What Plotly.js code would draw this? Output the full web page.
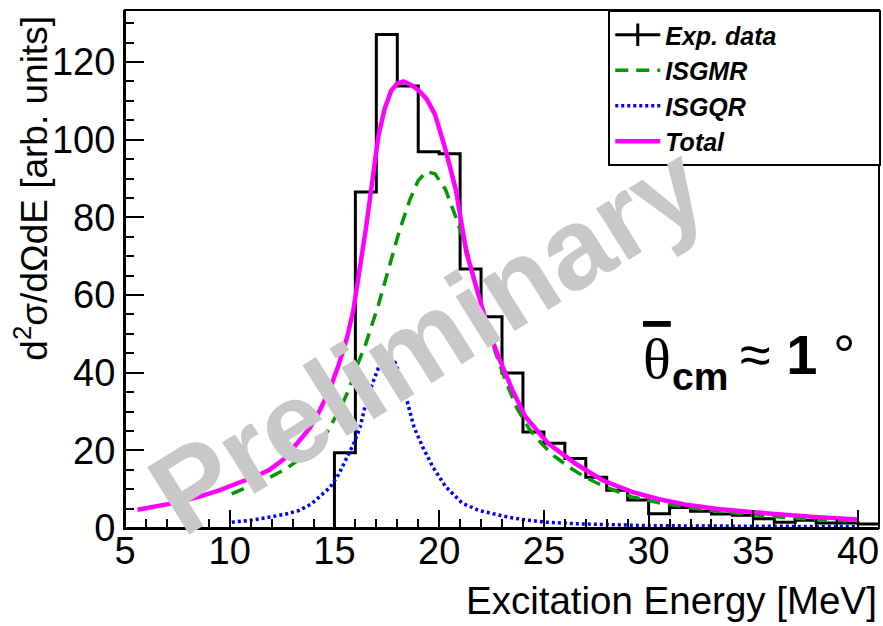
<!DOCTYPE html>
<html><head><meta charset="utf-8">
<script src="https://cdn.plot.ly/plotly-3.0.1.min.js"></script>
<style>html,body{margin:0;padding:0;background:#fff}</style>
</head><body><div id="chart" style="width:883px;height:626px"></div>
<script>
// Histogram (Exp. data): lower bin edges [MeV] and contents
const binLowEdges = [15,16,17,18,19,20,21,22,23,24,25,26,27,28,29,30,31,32,33,34,35,36,37,38,39,40];
const binCounts   = [19.4,86.5,127.1,113.8,96.9,96.4,66.7,54.4,39.9,24.7,21.8,17.9,13.1,9.7,7.2,3.7,5.3,4.3,3.6,3.3,2.4,1.5,2.0,1.3,1.3,1.0];
const binWidth = 1;

// Total fit (magenta)
const totalE = [5.6,6.5,7.5,8.5,9.5,10.3,11.2,11.9,12.6,13.2,13.8,14.3,14.8,15.2,15.6,15.9,16.2,16.5,16.8,17.1,17.4,17.7,18.0,18.3,18.7,19.0,19.4,19.8,20.3,20.8,21.3,21.8,22.3,22.8,23.5,24.1,25.2,26.5,27.8,29.2,30.5,31.8,33.3,34.9,36.5,38.1,40.0];
const totalY = [4.7,5.6,6.6,8.0,9.7,11.4,13.2,15.0,17.8,21.7,25.6,30.3,36,42,49,56,66,77,89,101,108,112.5,114.5,115,114,112.8,110.5,106.5,97.5,87,71,61,52,44.5,35.5,28.8,21.8,16.6,12.3,9.3,7.4,6.0,4.9,4.1,3.4,2.8,2.2];

// ISGMR (green dashed)
const gmrE = [10.1,11.0,11.9,12.7,13.4,14.0,14.5,14.9,15.3,15.7,16.1,16.5,16.8,17.1,17.6,18.1,18.6,19.0,19.4,19.8,20.3,20.8,21.3,21.7,22.2,22.7,23.2,23.7,24.3,24.9,25.5,26.2,26.9,27.6,28.4,29.2,30.5,32.0,33.5,35.0,36.5,38.0,40.0];
const gmrY = [8.8,10.8,13.0,15.3,17.8,20.2,23.3,27,31,35.8,42,47.5,52.5,57.5,67,76.5,84.5,89.5,91.8,91.2,87.2,80,72,63.5,54,45,37.5,31,25.5,21.7,18.5,15.7,13.3,11.4,9.6,8.0,6.5,5.2,4.2,3.4,2.7,2.2,1.8];

// ISGQR (blue dotted)
const gqrE = [10.1,11.0,11.9,12.7,13.3,13.9,14.4,14.8,15.2,15.6,15.9,16.2,16.45,16.8,17.1,17.5,17.9,18.2,18.5,18.8,19.2,19.7,20.3,21.1,21.9,22.5,23.3,24.1,25.1,26.5,28.0,30.0,33.0,36.0,40.0];
const gqrY = [1.5,2.0,2.8,3.6,4.5,6.2,8.6,10.5,13.8,18,21.5,25.5,31,37,41.2,43.8,42.6,38,32,26,21,15.7,10.7,6.4,4.5,3.7,2.8,2.1,1.5,1.1,0.8,0.6,0.5,0.4,0.35];

const xTickVals = [5,10,15,20,25,30,35,40];
const yTickVals = [0,20,40,60,80,100,120];
const legendNames = ['Exp. data','ISGMR','ISGQR','Total'];

const FONT = 'Liberation Sans, Arial, Helvetica, sans-serif';
const SERIF = 'Liberation Serif, Times New Roman, serif';

// step outline of histogram
const lastIdx = binLowEdges.length - 1;
const histX = [binLowEdges[0]].concat(binLowEdges, [binLowEdges[lastIdx] + binWidth]);
const histY = [0].concat(binCounts, [binCounts[lastIdx]]);

const pad = '\u00a0'.repeat(14);

const traces = [
  {x: histX, y: histY, mode: 'lines', line: {shape: 'hv', color: '#000', width: 3}, showlegend: false, hoverinfo: 'skip'},
  {x: gmrE, y: gmrY, mode: 'lines', name: legendNames[1], legendrank: 2, line: {color: '#009a00', width: 3.5, dash: '13px,8px'}},
  {x: gqrE, y: gqrY, mode: 'lines', name: legendNames[2], legendrank: 3, line: {color: '#0000ff', width: 3.5, dash: '3px,3px'}},
  {x: totalE, y: totalY, mode: 'lines', name: legendNames[3], legendrank: 4, line: {color: '#ff00ff', width: 4.5}},
  {x: [null], y: [null], mode: 'lines+markers', name: legendNames[0] + pad, legendrank: 1,
   line: {color: '#000', width: 3}, marker: {symbol: 'line-ns', size: 22, color: '#000', line: {width: 3, color: '#000'}}}
];

const axisCommon = {
  ticks: 'inside', tickwidth: 2, tickcolor: '#000', showline: true, linewidth: 2, linecolor: '#000',
  mirror: false, showgrid: false, zeroline: false,
  tickfont: {family: FONT, size: 38, color: '#000'}
};

const layout = {
  width: 883, height: 626,
  margin: {l: 125, r: 2, t: 10, b: 98},
  paper_bgcolor: '#fff', plot_bgcolor: '#fff',
  showlegend: true,
  xaxis: Object.assign({}, axisCommon, {range: [5, 41], tickvals: xTickVals, ticklen: 18, ticklabelstandoff: -12,
    minor: {tick0: 5, dtick: 1, ticks: 'inside', ticklen: 9, tickwidth: 2, tickcolor: '#000', showgrid: false}}),
  yaxis: Object.assign({}, axisCommon, {range: [0, 133.4], tickvals: yTickVals, ticklen: 19,
    minor: {tick0: 0, dtick: 5, ticks: 'inside', ticklen: 9, tickwidth: 2, tickcolor: '#000', showgrid: false}}),
  shapes: [
    {type: 'rect', xref: 'paper', yref: 'paper', x0: 0, x1: 1, y0: 0, y1: 1, line: {color: '#000', width: 2}, layer: 'above'}
  ],
  legend: {x: 1.003, xanchor: 'right', y: 1, yanchor: 'top', bgcolor: '#fff', bordercolor: '#000', borderwidth: 2,
    itemwidth: 45, tracegroupgap: 0,
    font: {family: FONT, size: 25, weight: 'bold', style: 'italic', color: '#000'}},
  annotations: [
    {xref: 'paper', yref: 'paper', x: 0.40, y: 0.365, xanchor: 'center', yanchor: 'middle', showarrow: false,
     text: '<b>Preliminary</b>', textangle: -32, font: {family: FONT, size: 115, color: '#c8c8c8'}},
    {xref: 'paper', yref: 'paper', x: 0.685, y: 0.328, xanchor: 'left', yanchor: 'middle', showarrow: false,
     text: '<span style="text-decoration:overline">\u03b8</span>', font: {family: SERIF, size: 58, color: '#000'}},
    {xref: 'paper', yref: 'paper', x: 0.723, y: 0.293, xanchor: 'left', yanchor: 'middle', showarrow: false,
     text: '<b>cm</b>', font: {family: FONT, size: 39, color: '#000'}},
    {xref: 'paper', yref: 'paper', x: 0.8135, y: 0.334, xanchor: 'left', yanchor: 'middle', showarrow: false,
     text: '\u2248 <b>1</b> \u00b0', font: {family: FONT, size: 56, color: '#000'}},
    {xref: 'paper', yref: 'paper', x: 1, y: -0.139, xanchor: 'right', yanchor: 'middle', showarrow: false,
     text: 'Excitation Energy [MeV]', font: {family: FONT, size: 38.5, color: '#000'}},
    {xref: 'paper', yref: 'paper', x: -0.124, y: 0.656, xanchor: 'center', yanchor: 'middle', showarrow: false, textangle: -90,
     text: 'd<sup>2</sup>\u03c3/d\u03a9dE [arb. units]', font: {family: FONT, size: 37, color: '#000'}}
  ]
};

Plotly.newPlot('chart', traces, layout, {displayModeBar: false, staticPlot: true});
</script>
</body></html>
